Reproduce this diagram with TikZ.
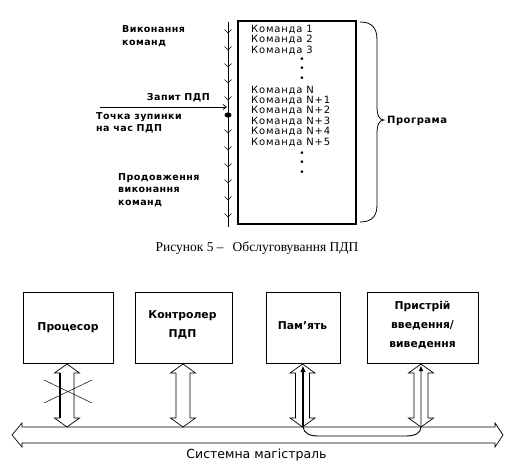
\documentclass[tikz,border=0pt]{standalone}
\usepackage{fontspec}
\setmainfont{Liberation Serif}
\newfontfamily\dv{DejaVu Sans}
\newfontfamily\dvs[LetterSpace=5]{DejaVu Sans}
\newfontfamily\dvc[LetterSpace=8]{DejaVu Sans}
\usetikzlibrary{arrows.meta,calc}
\newcommand\vhollow[3]{%
  \draw[hollow] (#1,-#2) -- (#1+12.5,-#2-9) -- (#1+7,-#2-9) -- (#1+7,-#3+9)
    -- (#1+12.5,-#3+9) -- (#1,-#3) -- (#1-12.5,-#3+9) -- (#1-7,-#3+9)
    -- (#1-7,-#2-9) -- (#1-12.5,-#2-9) -- cycle;}
\begin{document}
\begin{tikzpicture}[x=1pt,y=1pt,line join=miter,
  lbl/.style={font=\dvs\bfseries\fontsize{9.5}{11}\selectfont, inner sep=0, anchor=base west},
  cmd/.style={font=\dvc\fontsize{10}{10}\selectfont, inner sep=0, anchor=base west},
  dotc/.style={font=\dv\fontsize{9}{9}\selectfont, inner sep=0},
  boxlbl/.style={font=\dv\bfseries\fontsize{10.8}{13}\selectfont, inner sep=0, anchor=base},
  unit/.style={draw, line width=0.8pt, inner sep=0, minimum height=71pt},
  hollow/.style={draw, line width=0.7pt, fill=white},
  flow/.style={line width=0.7pt},
  chev/.style={line width=0.6pt}]
\useasboundingbox (0,0) rectangle (514,-468);

% ---------- upper figure ----------
\coordinate (ltop) at (228,-22);
\coordinate (lbot) at (228,-227);
\draw[flow] (ltop) -- (lbot);
\foreach \yy in {33,50,67,83,100,133,150,167,183,200,217}
  \draw[chev] (224.5,-\yy+3.5) -- (228,-\yy) -- (231.5,-\yy+3.5);
\fill (228,-115) ellipse [x radius=3.5, y radius=2.6];
\coordinate (req) at (100,-107);
\coordinate (reqend) at (227,-107);
\draw[flow,-{Straight Barb[length=3.5pt,width=5pt]}] (req) -- (reqend);

\node[lbl] (t1) at (122,-33) {Виконання};
\node[lbl] (t2) at (122,-46) {команд};
\node[lbl, anchor=base east] (zap) at (210,-101) {Запит ПДП};
\node[lbl] (tz1) at (96,-120) {Точка зупинки};
\node[lbl] (tz2) at (96,-131.5) {на час ПДП};
\node[lbl] (pr1) at (118,-180) {Продовження};
\node[lbl] (pr2) at (118,-192.5) {виконання};
\node[lbl] (pr3) at (118,-205) {команд};

\node[draw, line width=1.2pt, minimum width=118pt, minimum height=203pt, inner sep=0] (prog) at (297,-122.5) {};
\foreach \t/\yy [count=\i] in {Команда 1/32.5, Команда 2/43, Команда 3/53.5,
    Команда N/93.5, Команда N+1/104, Команда N+2/114, Команда N+3/124.5,
    Команда N+4/135, Команда N+5/145.5}
  \node[cmd] (c\i) at (251,-\yy) {\t};
\foreach \yy [count=\i] in {60,69.5,79,154,163.5,173}
  \node[dotc] (d\i) at (302,-\yy) {•};

\draw[line width=0.8pt] (360,-22) .. controls (372,-22) and (377,-28) .. (377,-40)
  -- (377,-106) .. controls (377,-115) and (379,-120) .. (384,-120)
  .. controls (379,-120) and (377,-125) .. (377,-134)
  -- (377,-205) .. controls (377,-216) and (372,-222) .. (360,-222);
\node[lbl, font=\dvs\bfseries\fontsize{10}{12}\selectfont] (progl) at (387,-124) {Програма};

\node[font=\fontsize{13.5}{15}\selectfont, inner sep=0, anchor=base] (cap) at (257,-251)
  {Рисунок 5 –\hspace{9pt}Обслуговування ПДП};

% ---------- lower figure ----------
\node[unit, minimum width=90pt] (proc) at (68,-327.5) {};
\node[unit, minimum width=97pt] (ctrl) at (183.5,-327.5) {};
\node[unit, minimum width=74pt] (mem) at (303,-327.5) {};
\node[unit, minimum width=111pt] (dev) at (422.5,-327.5) {};
\node[boxlbl] (procT) at (68,-330) {Процесор};
\node[boxlbl] (ctrlT1) at (182.5,-318) {Контролер};
\node[boxlbl] (ctrlT2) at (182.5,-337) {ПДП};
\node[boxlbl] (memT) at (302.5,-329) {Пам’ять};
\node[boxlbl] (devT1) at (422.5,-309) {Пристрій};
\node[boxlbl] (devT2) at (422.5,-328) {введення/};
\node[boxlbl] (devT3) at (422.5,-347) {виведення};

% system bus
\draw[hollow] (12,-435) -- (22,-423) -- (22,-427) -- (495,-427) -- (495,-423)
  -- (503,-435) -- (495,-447) -- (495,-443) -- (22,-443) -- (22,-447) -- cycle;
\node[font=\dv\fontsize{12.5}{14}\selectfont, inner sep=0, anchor=base] (bus) at (256.5,-458) {Системна магістраль};

\vhollow{67}{364}{427}
\vhollow{183}{364}{427}
\vhollow{302.5}{364}{427}
\vhollow{421}{364}{427}

\draw[line width=1.6pt] (60,-373) -- (60,-418);
\draw[line width=0.5pt] (44,-380) -- (92,-403);
\draw[line width=0.5pt] (44,-403) -- (92,-380);

\coordinate (memtap) at (303,-427);
\coordinate (devtap) at (421,-427);
\draw[line width=1.6pt, -{Triangle[length=6pt,width=4.5pt]}] (memtap) -- (303,-366);
\draw[line width=0.9pt, -{Triangle[length=5pt,width=4pt]}] (memtap)
  .. controls (304,-433) and (309,-436) .. (318,-436) -- (406,-436)
  .. controls (415,-436) and (421,-433) .. (devtap) -- (421,-366);
\end{tikzpicture}
\end{document}
